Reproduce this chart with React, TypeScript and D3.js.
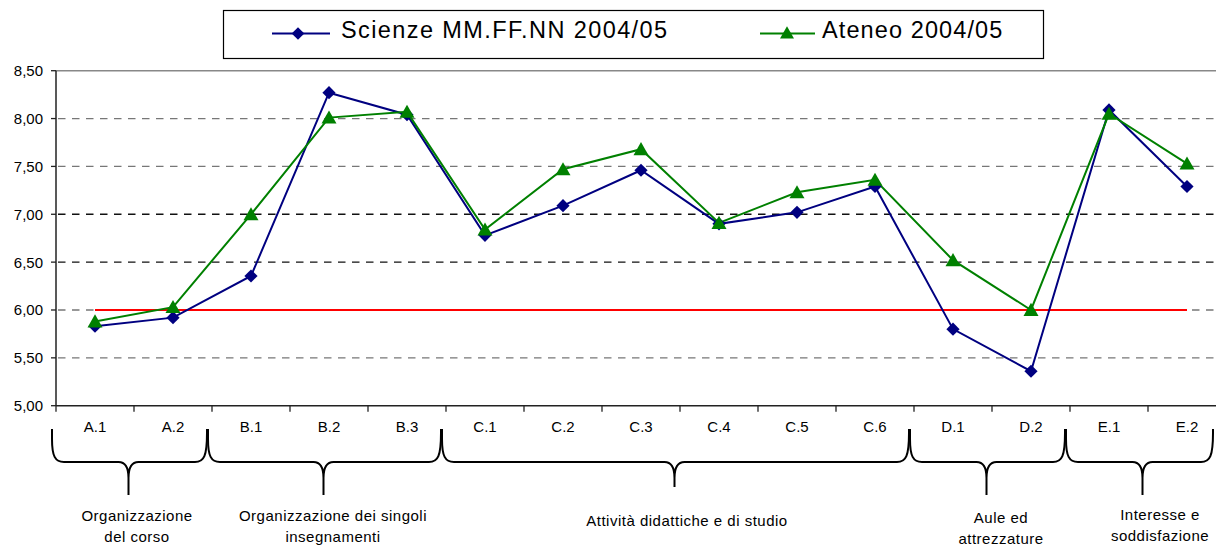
import React from 'react';
import * as d3 from 'd3';

const categories = ['A.1', 'A.2', 'B.1', 'B.2', 'B.3', 'C.1', 'C.2', 'C.3', 'C.4', 'C.5', 'C.6', 'D.1', 'D.2', 'E.1', 'E.2'];
const scienze = [5.83, 5.92, 6.355, 8.27, 8.04, 6.78, 7.09, 7.46, 6.9, 7.02, 7.29, 5.8, 5.36, 8.09, 7.29];
const ateneo = [5.88, 6.03, 7.0, 8.01, 8.07, 6.84, 7.47, 7.68, 6.91, 7.23, 7.36, 6.52, 6.0, 8.05, 7.53];
const yTicks = [5, 5.5, 6, 6.5, 7, 7.5, 8, 8.5];
const gridValues = [5.5, 6, 6.5, 7, 7.5, 8];
const darkGrid = [6.5, 7];
const threshold = 6;
const seriesNames = ['Scienze MM.FF.NN 2004/05', 'Ateneo 2004/05'];
const groupLabels = [
  ['Organizzazione', 'del corso'],
  ['Organizzazione dei singoli', 'insegnamenti'],
  ['Attività didattiche e di studio'],
  ['Aule ed', 'attrezzature'],
  ['Interesse e', 'soddisfazione'],
];
const groupFirst = ['A.1', 'B.1', 'C.1', 'D.1', 'E.1'];
const groupLast = ['A.2', 'B.3', 'C.6', 'D.2', 'E.2'];

const FONT = '"Liberation Sans", Arial, sans-serif';
const BLUE = '#000080';
const GREEN = '#008000';

const W = 1216;
const H = 547;
const left = 56;
const band = 78;

const x = d3.scaleBand<string>().domain(categories).range([left, left + band * categories.length]).padding(0);
const y = d3.scaleLinear().domain([5, 8.5]).range([405.7, 70.7]);
const cx = (c: string) => (x(c) as number) + x.bandwidth() / 2;

const diamond = (s: number) => `M0,${-s}L${s},0L0,${s}L${-s},0Z`;
const triangle = (s: number) => `M0,${-s * 0.95}L${s},${s * 0.8}L${-s},${s * 0.8}Z`;

function bracePath(x0: number, x1: number, xm: number, yTop: number, yMid: number, yBot: number) {
  const p = d3.path();
  p.moveTo(x0, yTop);
  p.lineTo(x0, yTop + 10);
  p.bezierCurveTo(x0, yMid - 6, x0 + 3, yMid, x0 + 12, yMid);
  p.lineTo(xm - 10, yMid);
  p.bezierCurveTo(xm - 3, yMid, xm, yMid + 6, xm, yMid + 16);
  p.lineTo(xm, yBot);
  p.moveTo(xm, yMid + 16);
  p.bezierCurveTo(xm, yMid + 6, xm + 3, yMid, xm + 10, yMid);
  p.lineTo(x1 - 12, yMid);
  p.bezierCurveTo(x1 - 3, yMid, x1, yMid - 6, x1, yTop + 4);
  p.lineTo(x1, yTop);
  return p.toString();
}

export default function App() {
  const line = d3
    .line<number>()
    .x((_, i) => cx(categories[i]))
    .y((d) => y(d));
  const fmt = (v: number) => d3.format('.2f')(v).replace('.', ',');
  const plotRight = W;
  const yAxis = y(5);

  const labelCenters = [137, 333, 687, 1001, 1160];
  const labelBase = [520.5, 520.5, 526, 522.5, 520];

  return (
    <svg width={W} height={H} style={{ position: 'absolute', left: 0, top: 0, background: '#fff' }} fontFamily={FONT}>
      <rect x={0} y={0} width={W} height={H} fill="#fff" />
      {/* legend */}
      <rect x={223.5} y={10.5} width={820} height={48} fill="#fff" stroke="#000" strokeWidth={1.2} />
      <line x1={272} x2={330} y1={33.5} y2={33.5} stroke={BLUE} strokeWidth={2} />
      <path d={diamond(6.3)} transform="translate(298,33.5)" fill={BLUE} />
      <text x={341} y={38} fontSize={23.5} letterSpacing={1.4} fill="#000">{seriesNames[0]}</text>
      <line x1={760} x2={815} y1={33.5} y2={33.5} stroke={GREEN} strokeWidth={2} />
      <path d={triangle(7)} transform="translate(787,33)" fill={GREEN} />
      <text x={822} y={38} fontSize={23.5} letterSpacing={1.1} fill="#000">{seriesNames[1]}</text>

      {/* plot border top */}
      <line x1={left} x2={plotRight} y1={y(8.5)} y2={y(8.5)} stroke="#888" strokeWidth={1.5} />
      {/* grid */}
      {gridValues.map((v) => (
        <line
          key={v}
          x1={left + 2}
          x2={plotRight}
          y1={y(v)}
          y2={y(v)}
          stroke={darkGrid.includes(v) ? '#111' : '#777'}
          strokeWidth={1.3}
          strokeDasharray="7.5 6.5"
        />
      ))}
      {/* threshold */}
      <line
        x1={cx(categories[0])}
        x2={cx(categories[categories.length - 1])}
        y1={y(threshold)}
        y2={y(threshold)}
        stroke="#ff0000"
        strokeWidth={2}
      />
      {/* y axis */}
      <line x1={left} x2={left} y1={y(8.5)} y2={yAxis} stroke="#222" strokeWidth={1.5} />
      {yTicks.map((v) => (
        <g key={v}>
          <line x1={left - 5} x2={left} y1={y(v)} y2={y(v)} stroke="#222" strokeWidth={1.3} />
          <text x={43} y={y(v)} dy="0.36em" textAnchor="end" fontSize={15} fill="#000">
            {fmt(v)}
          </text>
        </g>
      ))}
      {/* x axis */}
      <line x1={left} x2={plotRight} y1={yAxis} y2={yAxis} stroke="#222" strokeWidth={1.5} />
      {categories.map((c) => (
        <g key={c}>
          <line x1={x(c) as number} x2={x(c) as number} y1={yAxis} y2={yAxis + 6} stroke="#222" strokeWidth={1.3} />
          <text x={cx(c)} y={432} textAnchor="middle" fontSize={15} fill="#000">
            {c}
          </text>
        </g>
      ))}

      {/* series */}
      <path d={line(scienze) || ''} fill="none" stroke={BLUE} strokeWidth={2} />
      <path d={line(ateneo) || ''} fill="none" stroke={GREEN} strokeWidth={2} />
      {scienze.map((v, i) => (
        <path key={'s' + i} d={diamond(6.6)} transform={`translate(${cx(categories[i])},${y(v)})`} fill={BLUE} />
      ))}
      {ateneo.map((v, i) => (
        <path key={'a' + i} d={triangle(7.5)} transform={`translate(${cx(categories[i])},${y(v)})`} fill={GREEN} />
      ))}

      {/* braces */}
      {groupFirst.map((f, gi) => {
        const x0 = (x(f) as number) - 4;
        const xe = (x(groupLast[gi]) as number) + x.bandwidth() - 5;
        const x1 = Math.min(xe, 1213);
        const xm = (x0 + xe) / 2 - 1;
        const yBot = gi === 2 ? 487 : 495;
        return (
          <path
            key={f}
            d={bracePath(x0, x1, xm, 429, 462, yBot)}
            fill="none"
            stroke="#000"
            strokeWidth={2}
            strokeLinejoin="round"
          />
        );
      })}
      {groupLabels.map((lines, gi) => (
        <text key={gi} x={labelCenters[gi]} y={labelBase[gi]} textAnchor="middle" fontSize={15} letterSpacing={0.5} fill="#000">
          {lines.map((l, li) => (
            <tspan key={li} x={labelCenters[gi]} dy={li === 0 ? 0 : 21}>
              {l}
            </tspan>
          ))}
        </text>
      ))}
    </svg>
  );
}
